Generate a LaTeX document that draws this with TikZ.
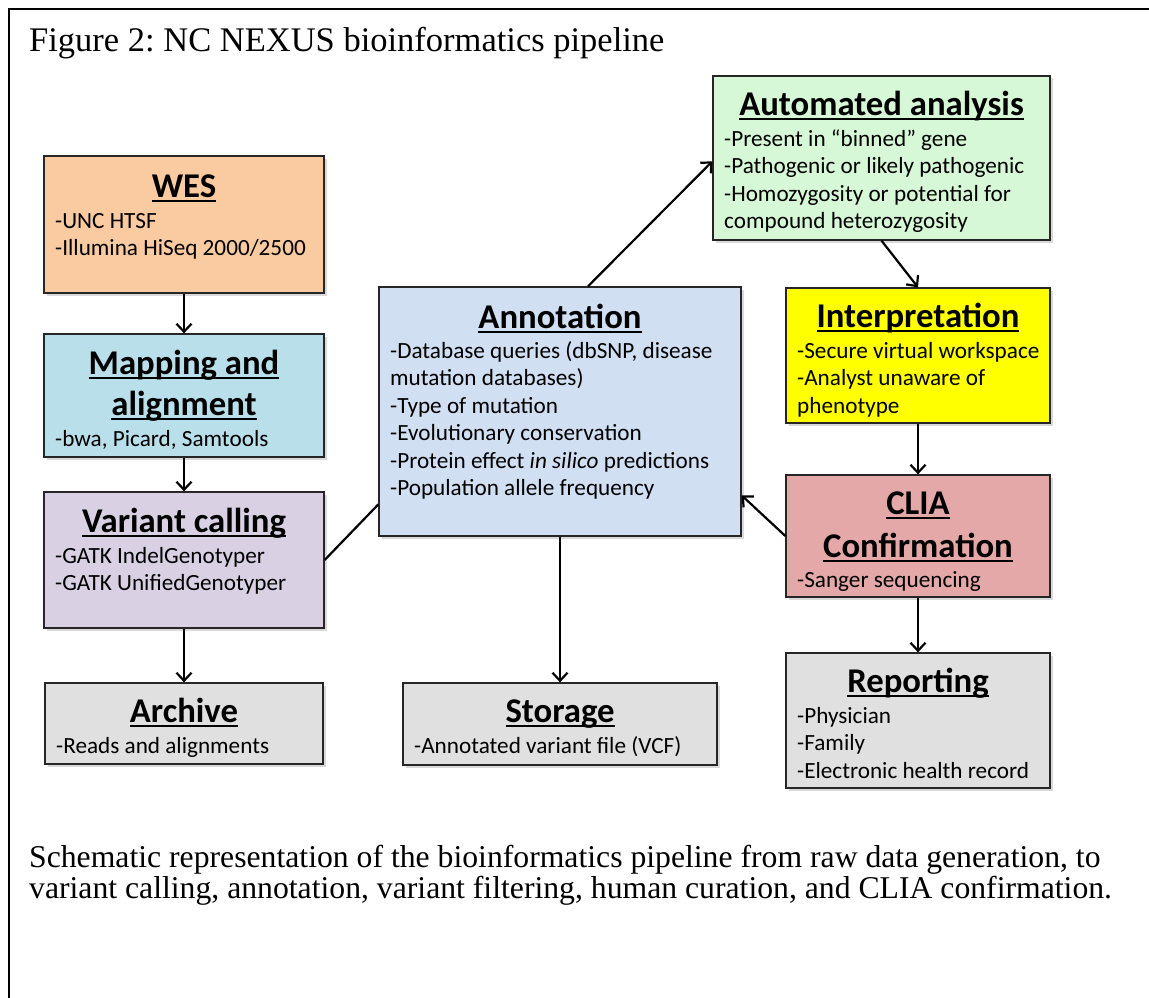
\documentclass[tikz,border=0pt]{standalone}
\usepackage{fontspec}
\setmainfont{Liberation Serif}
\newfontfamily\calfont{Carlito}
\newcommand\ulx[1]{\leavevmode\setbox0\hbox{#1}\rlap{\rule[-4.5pt]{\wd0}{2pt}}\box0}
\usetikzlibrary{shadows,arrows.meta,calc}
\definecolor{cwes}{RGB}{250,202,160}
\definecolor{cmap}{RGB}{185,224,234}
\definecolor{cvar}{RGB}{217,208,228}
\definecolor{cgray}{RGB}{224,224,224}
\definecolor{cann}{RGB}{208,223,242}
\definecolor{cauto}{RGB}{214,248,214}
\definecolor{cint}{RGB}{255,255,0}
\definecolor{cclia}{RGB}{228,168,168}
\newcommand\blines[4]{%
  \foreach \t [count=\i] in {#4} {\node[body] (#1-\i) at (#2,{#3+27.5*(\i-1)}) {\t};}}
\frenchspacing
\begin{document}
\begin{tikzpicture}[x=1pt,y=-1pt,
  box/.style={draw=black!85, line width=1.3pt, inner sep=0,
    drop shadow={shadow xshift=2.5pt, shadow yshift=-2.5pt, opacity=0.3}},
  ttl/.style={font=\calfont\bfseries\fontsize{34.7}{42}\selectfont, inner sep=0, anchor=base},
  body/.style={font=\calfont\fontsize{23.2}{27.5}\selectfont, inner sep=0, anchor=base west},
  arr/.style={line width=2.2pt, -{Straight Barb[length=8pt,width=15pt]}},
  plain/.style={line width=2.2pt}]
\useasboundingbox (0,0) rectangle (1149,998);
\draw[line width=2pt] (9,998) -- (9,9) -- (1149,9);
\node[anchor=base west, inner sep=0, font=\fontsize{34.5}{40}\selectfont] (fig) at (29,52) {Figure 2: NC NEXUS bioinformatics pipeline};
% boxes
\node[box, fill=cwes, minimum width=280pt, minimum height=137pt] (wes) at (184,224.5) {};
\node[box, fill=cmap, minimum width=280pt, minimum height=123pt] (map) at (184,395.5) {};
\node[box, fill=cvar, minimum width=280pt, minimum height=136pt] (var) at (184,560) {};
\node[box, fill=cgray, minimum width=278pt, minimum height=81pt] (arc) at (184,723.5) {};
\node[box, fill=cann, minimum width=362pt, minimum height=249pt] (ann) at (560,411.5) {};
\node[box, fill=cgray, minimum width=314pt, minimum height=82pt] (sto) at (560,724) {};
\node[box, fill=cauto, minimum width=337pt, minimum height=164pt] (auto) at (881.5,158) {};
\node[box, fill=cint, minimum width=264pt, minimum height=135pt] (int) at (918,355.5) {};
\node[box, fill=cclia, minimum width=264pt, minimum height=122pt] (clia) at (918,536) {};
\node[box, fill=cgray, minimum width=264pt, minimum height=135pt] (rep) at (918,720.5) {};
% texts
\node[ttl] (wes-t) at (184,197) {\ulx{WES}};
\blines{wes}{55}{228}{{-UNC HTSF},{-Illumina HiSeq 2000/2500}}
\node[ttl] (map-t1) at (184,374) {\ulx{Mapping and}};
\node[ttl] (map-t2) at (184,415) {\ulx{alignment}};
\blines{map}{55}{446}{{-bwa, Picard, Samtools}}
\node[ttl] (var-t) at (184,532) {\ulx{Variant calling}};
\blines{var}{55}{563}{{-GATK IndelGenotyper},{-GATK UnifiedGenotyper}}
\node[ttl] (arc-t) at (184,722) {\ulx{Archive}};
\blines{arc}{56}{753}{{-Reads and alignments}}
\node[ttl] (ann-t) at (560,328) {\ulx{Annotation}};
\blines{ann}{390}{358}{{-Database queries (dbSNP, disease},{mutation databases)},{-Type of mutation},{-Evolutionary conservation},{-Protein effect \textit{in silico} predictions},{-Population allele frequency}}
\node[ttl] (sto-t) at (560,722) {\ulx{Storage}};
\blines{sto}{414}{753}{{-Annotated variant file (VCF)}}
\node[ttl] (auto-t) at (881.5,115) {\ulx{Automated analysis}};
\blines{auto}{724}{146}{{-Present in “binned” gene},{-Pathogenic or likely pathogenic},{-Homozygosity or potential for},{compound heterozygosity}}
\node[ttl] (int-t) at (918,327) {\ulx{Interpretation}};
\blines{int}{797}{358}{{-Secure virtual workspace},{-Analyst unaware of},{phenotype}}
\node[ttl] (clia-t1) at (918,514) {\ulx{CLIA}};
\node[ttl] (clia-t2) at (918,557) {\ulx{Confirmation}};
\blines{clia}{797}{587}{{-Sanger sequencing}}
\node[ttl] (rep-t) at (918,692) {\ulx{Reporting}};
\blines{rep}{797}{723}{{-Physician},{-Family},{-Electronic health record}}
% connectors
\draw[arr] (wes.south) -- (map.north);
\draw[arr] (map.south) -- (var.north);
\draw[arr] (var.south) -- (arc.north);
\draw[plain] (var.east) -- ($(ann.north west)!0.871!(ann.south west)$);
\draw[arr] ($(ann.north west)!0.577!(ann.north east)$) -- ($(auto.north west)!0.52!(auto.south west)$);
\draw[arr] (auto.south) -- (int.north);
\draw[arr] (int.south) -- (clia.north);
\draw[arr] (clia.west) -- ($(ann.north east)!0.835!(ann.south east)$);
\draw[arr] (ann.south) -- (sto.north);
\draw[arr] (clia.south) -- (rep.north);
% caption
\node[anchor=base west, inner sep=0, font=\fontsize{31.7}{31}\selectfont] (cap1) at (29,867) {Schematic representation of the bioinformatics pipeline from raw data generation, to};
\node[anchor=base west, inner sep=0, font=\fontsize{31.7}{31}\selectfont] (cap2) at (29,898) {variant calling, annotation, variant filtering, human curation, and CLIA confirmation.};
\end{tikzpicture}
\end{document}
